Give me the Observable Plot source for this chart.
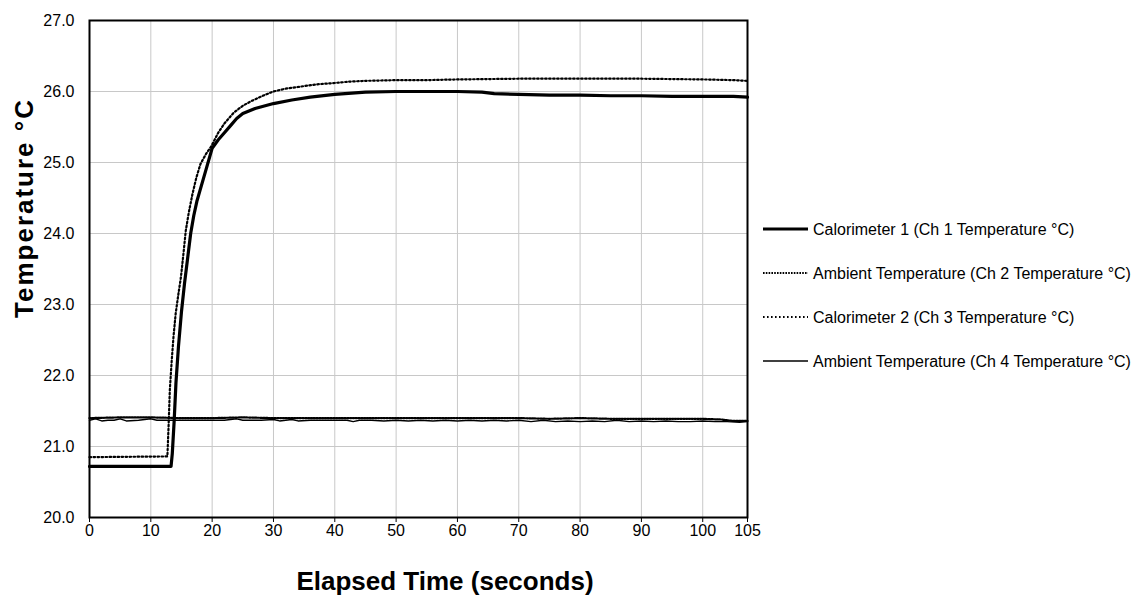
<!DOCTYPE html>
<html>
<head>
<meta charset="utf-8">
<script src="https://cdn.jsdelivr.net/npm/d3@7"></script>
<script src="https://cdn.jsdelivr.net/npm/@observablehq/plot@0.6"></script>
<style>
  html, body { margin: 0; padding: 0; background: #fff; }
  #wrap { position: relative; width: 1138px; height: 601px; font-family: "Liberation Sans", Arial, sans-serif; }
  #legend { position: absolute; left: 0; top: 0; }
</style>
</head>
<body>
<div id="wrap"></div>
<script>
// ---------- data ----------
const seriesNames = [
  "Calorimeter 1 (Ch 1 Temperature °C)",
  "Ambient Temperature (Ch 2 Temperature °C)",
  "Calorimeter 2 (Ch 3 Temperature °C)",
  "Ambient Temperature (Ch 4 Temperature °C)"
];

const ch1Time = [0, 13.3, 13.5, 13.8, 14.1, 14.5, 15.0, 15.5, 16.0, 16.5, 17.0, 17.5, 18, 19, 20, 21, 22, 23, 24, 25, 27, 30, 33, 36, 40, 45, 50, 55, 60, 64, 66, 70, 75, 80, 85, 90, 95, 100, 105, 107.3];
const ch1Temp = [20.72, 20.72, 20.9, 21.35, 21.9, 22.4, 22.9, 23.3, 23.65, 24.0, 24.25, 24.45, 24.6, 24.9, 25.2, 25.32, 25.42, 25.52, 25.62, 25.69, 25.76, 25.83, 25.88, 25.92, 25.96, 25.99, 26.0, 26.0, 26.0, 25.99, 25.97, 25.96, 25.95, 25.95, 25.94, 25.94, 25.93, 25.93, 25.93, 25.92];

const ch2Time = [0, 5, 10, 15, 20, 25, 30, 35, 40, 45, 50, 55, 60, 65, 70, 75, 80, 85, 90, 95, 100, 103, 105, 107.3];
const ch2Temp = [21.40, 21.41, 21.41, 21.40, 21.40, 21.41, 21.40, 21.40, 21.40, 21.40, 21.40, 21.40, 21.40, 21.40, 21.40, 21.39, 21.40, 21.39, 21.39, 21.39, 21.39, 21.38, 21.36, 21.36];

const ch3Time = [0, 12.7, 12.9, 13.1, 13.4, 13.7, 14.05, 14.5, 14.9, 15.3, 15.7, 16.2, 16.8, 17.4, 18.1, 19, 19.8, 21, 22, 23.5, 25, 26.5, 28, 30, 32, 34.5, 37, 40, 42.5, 45, 50, 55, 60, 70, 80, 90, 100, 105, 107.3];
const ch3Temp = [20.85, 20.86, 21.3, 21.8, 22.2, 22.55, 22.87, 23.15, 23.38, 23.7, 24.04, 24.3, 24.56, 24.78, 24.98, 25.12, 25.22, 25.42, 25.55, 25.7, 25.8, 25.87, 25.93, 26.0, 26.04, 26.07, 26.1, 26.12, 26.14, 26.15, 26.16, 26.16, 26.17, 26.18, 26.18, 26.18, 26.17, 26.16, 26.15];

const ch4Time = [0, 1, 2, 3, 4, 5, 6, 8, 10, 11, 12, 14, 16, 18, 20, 22, 24, 25, 26, 28, 30, 31, 32, 33, 34, 36, 38, 40, 42, 43, 44, 46, 48, 50, 52, 54, 56, 58, 60, 62, 64, 66, 68, 70, 72, 74, 76, 78, 80, 82, 84, 86, 88, 90, 92, 94, 96, 98, 100, 102, 104, 106, 107.3];
const ch4Temp = [21.37, 21.39, 21.36, 21.37, 21.37, 21.39, 21.36, 21.37, 21.39, 21.37, 21.37, 21.37, 21.37, 21.37, 21.37, 21.37, 21.39, 21.37, 21.37, 21.37, 21.38, 21.36, 21.37, 21.38, 21.36, 21.37, 21.37, 21.37, 21.37, 21.35, 21.37, 21.37, 21.36, 21.37, 21.36, 21.37, 21.36, 21.37, 21.36, 21.37, 21.36, 21.37, 21.36, 21.37, 21.35, 21.37, 21.35, 21.36, 21.35, 21.36, 21.35, 21.37, 21.35, 21.36, 21.35, 21.36, 21.35, 21.35, 21.36, 21.35, 21.35, 21.34, 21.35];

const xTickValues = [0, 10, 20, 30, 40, 50, 60, 70, 80, 90, 100];
const xEndLabel = "105";
const xEnd = 107.3;            // right edge of the time axis (end of record)
const yTickValues = [20, 21, 22, 23, 24, 25, 26, 27];
const xTitle = "Elapsed Time (seconds)";
const yTitle = "Temperature °C";

// ---------- build tidy table ----------
const toRows = (ts, vs, s) => ts.map((t, i) => ({t, v: vs[i], s}));
const rows1 = toRows(ch1Time, ch1Temp, seriesNames[0]);
const rows2 = toRows(ch2Time, ch2Temp, seriesNames[1]);
const rows3 = toRows(ch3Time, ch3Temp, seriesNames[2]);
const rows4 = toRows(ch4Time, ch4Temp, seriesNames[3]);

const styles = [
  {stroke: "#000", strokeWidth: 3.2, dash: null},
  {stroke: "#000", strokeWidth: 2.2, dash: "1.6,1.2"},
  {stroke: "#000", strokeWidth: 2.2, dash: "1.6,2.4"},
  {stroke: "#000", strokeWidth: 1.4, dash: null}
];

const FONT = '"Liberation Sans", Arial, sans-serif';

const chart = Plot.plot({
  width: 1138,
  height: 601,
  marginLeft: 89,
  marginRight: 391,
  marginTop: 20,
  marginBottom: 84,
  style: {fontFamily: FONT, fontSize: "16px", color: "#000", background: "#fff"},
  x: {domain: [0, xEnd]},
  y: {domain: [20, 27]},
  marks: [
    Plot.gridX(xTickValues.slice(1), {stroke: "#c8c8c8", strokeOpacity: 1, strokeWidth: 1}),
    Plot.gridY(yTickValues.slice(1, -1), {stroke: "#c8c8c8", strokeOpacity: 1, strokeWidth: 1}),
    Plot.line(rows4, {x: "t", y: "v", stroke: styles[3].stroke, strokeWidth: styles[3].strokeWidth}),
    Plot.line(rows1, {x: "t", y: "v", stroke: styles[0].stroke, strokeWidth: styles[0].strokeWidth}),
    Plot.line(rows2, {x: "t", y: "v", stroke: styles[1].stroke, strokeWidth: styles[1].strokeWidth, strokeDasharray: styles[1].dash}),
    Plot.line(rows3, {x: "t", y: "v", stroke: styles[2].stroke, strokeWidth: styles[2].strokeWidth, strokeDasharray: styles[2].dash}),
    Plot.frame({stroke: "#000", strokeWidth: 2}),
    Plot.axisX([...xTickValues, xEnd], {
      tickFormat: d => d === xEnd ? xEndLabel : String(d),
      tickSize: 5, tickPadding: 2, fontSize: 16, label: null, stroke: "#000"
    }),
    Plot.axisY(yTickValues, {
      tickFormat: d => d.toFixed(1), tickSize: 0, tickPadding: 15, fontSize: 16, label: null
    })
  ]
});

const wrap = document.getElementById("wrap");
wrap.appendChild(chart);

// axis titles
const svg = d3.select(chart);
svg.append("text")
  .attr("x", 445).attr("y", 590)
  .attr("text-anchor", "middle")
  .attr("font-family", FONT).attr("font-weight", "bold").attr("font-size", 26)
  .attr("fill", "#000")
  .text(xTitle);
svg.append("text")
  .attr("transform", "translate(33,208) rotate(-90)")
  .attr("text-anchor", "middle")
  .attr("font-family", FONT).attr("font-weight", "bold").attr("font-size", 26)
  .attr("letter-spacing", 2)
  .attr("fill", "#000")
  .text(yTitle);

// legend (to the right of the plot)
const leg = d3.select(wrap).append("svg")
  .attr("id", "legend")
  .attr("width", 1138).attr("height", 601)
  .style("pointer-events", "none");
const legY0 = 229, legStep = 44;
seriesNames.forEach((name, i) => {
  const y = legY0 + i * legStep;
  const st = styles[i];
  leg.append("line")
    .attr("x1", 763).attr("x2", 808).attr("y1", y).attr("y2", y)
    .attr("stroke", st.stroke).attr("stroke-width", st.strokeWidth)
    .attr("stroke-dasharray", st.dash);
  leg.append("text")
    .attr("x", 813).attr("y", y + 6)
    .attr("font-family", FONT).attr("font-size", 16).attr("fill", "#000")
    .text(name);
});
</script>
</body>
</html>
